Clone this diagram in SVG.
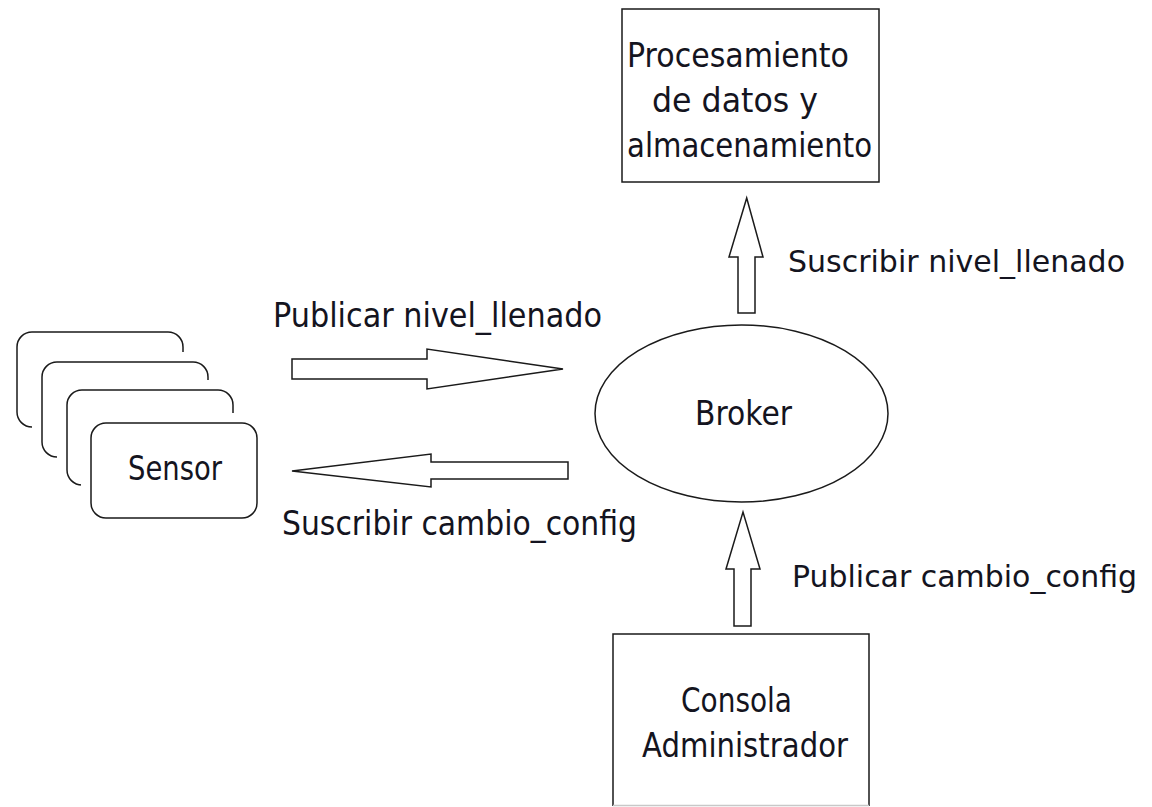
<svg xmlns="http://www.w3.org/2000/svg" width="1152" height="807" viewBox="0 0 1152 807">
<style>
.bg{fill:#fff}
.shape{fill:#fff;stroke:#1a1a1a;stroke-width:1.5}
.halo{fill:#fff;stroke:#fff;stroke-width:20}
.arrow{fill:#fff;stroke:#1a1a1a;stroke-width:1.5;stroke-linejoin:miter}
text{font-family:"DejaVu Sans","Liberation Sans",sans-serif;font-size:33px;fill:#141420}
.small{font-size:30.5px}
</style>
<rect class="bg" x="0" y="0" width="1152" height="807"/>

<g id="sensors">
  <rect class="halo" x="17" y="332" width="166" height="95" rx="15"/>
  <rect class="shape" x="17" y="332" width="166" height="95" rx="15"/>
  <rect class="halo" x="42" y="362" width="166" height="95" rx="15"/>
  <rect class="shape" x="42" y="362" width="166" height="95" rx="15"/>
  <rect class="halo" x="67" y="390" width="166" height="95" rx="15"/>
  <rect class="shape" x="67" y="390" width="166" height="95" rx="15"/>
  <rect class="halo" x="91" y="423" width="166" height="95" rx="15"/>
  <rect class="shape" x="91" y="423" width="166" height="95" rx="15"/>
  <text x="128" y="480" textLength="94" lengthAdjust="spacingAndGlyphs">Sensor</text>
</g>

<g id="broker">
  <ellipse class="shape" cx="741.5" cy="413.5" rx="146.5" ry="88.5"/>
  <text x="695" y="425" textLength="97" lengthAdjust="spacingAndGlyphs">Broker</text>
</g>

<g id="procesamiento">
  <rect class="shape" x="622" y="9" width="257" height="173"/>
  <text x="627" y="67" textLength="222" lengthAdjust="spacingAndGlyphs">Procesamiento</text>
  <text x="652" y="112" textLength="166" lengthAdjust="spacingAndGlyphs">de datos y</text>
  <text x="627" y="157" textLength="245" lengthAdjust="spacingAndGlyphs">almacenamiento</text>
</g>

<g id="consola">
  <path d="M613,806 V634 H869 V806" fill="#fff" stroke="#1a1a1a" stroke-width="1.5"/>
  <line x1="613" y1="805.5" x2="869" y2="805.5" stroke="#c8c8c8" stroke-width="1.5"/>
  <text x="681" y="712" textLength="111" lengthAdjust="spacingAndGlyphs">Consola</text>
  <text x="642" y="757" textLength="206" lengthAdjust="spacingAndGlyphs">Administrador</text>
</g>

<g id="connectors">
  <polygon class="arrow" points="292,359 427,359 427,349 563,369 427,389 427,379 292,379"/>
  <polygon class="arrow" points="568,462 431,462 431,454 292,471 431,487 431,479 568,479"/>
  <polygon class="arrow" points="738,313 738,257 729,257 746.7,198 763,257 755,257 755,313"/>
  <polygon class="arrow" points="734,626 734,569 726,569 743,512 760,569 751,569 751,626"/>
  <text x="273" y="327" textLength="329" lengthAdjust="spacingAndGlyphs">Publicar nivel_llenado</text>
  <text x="282" y="535" textLength="355" lengthAdjust="spacingAndGlyphs">Suscribir cambio_config</text>
  <text class="small" x="788" y="272" textLength="337" lengthAdjust="spacingAndGlyphs">Suscribir nivel_llenado</text>
  <text class="small" x="792" y="587" textLength="345" lengthAdjust="spacingAndGlyphs">Publicar cambio_config</text>
</g>
</svg>
